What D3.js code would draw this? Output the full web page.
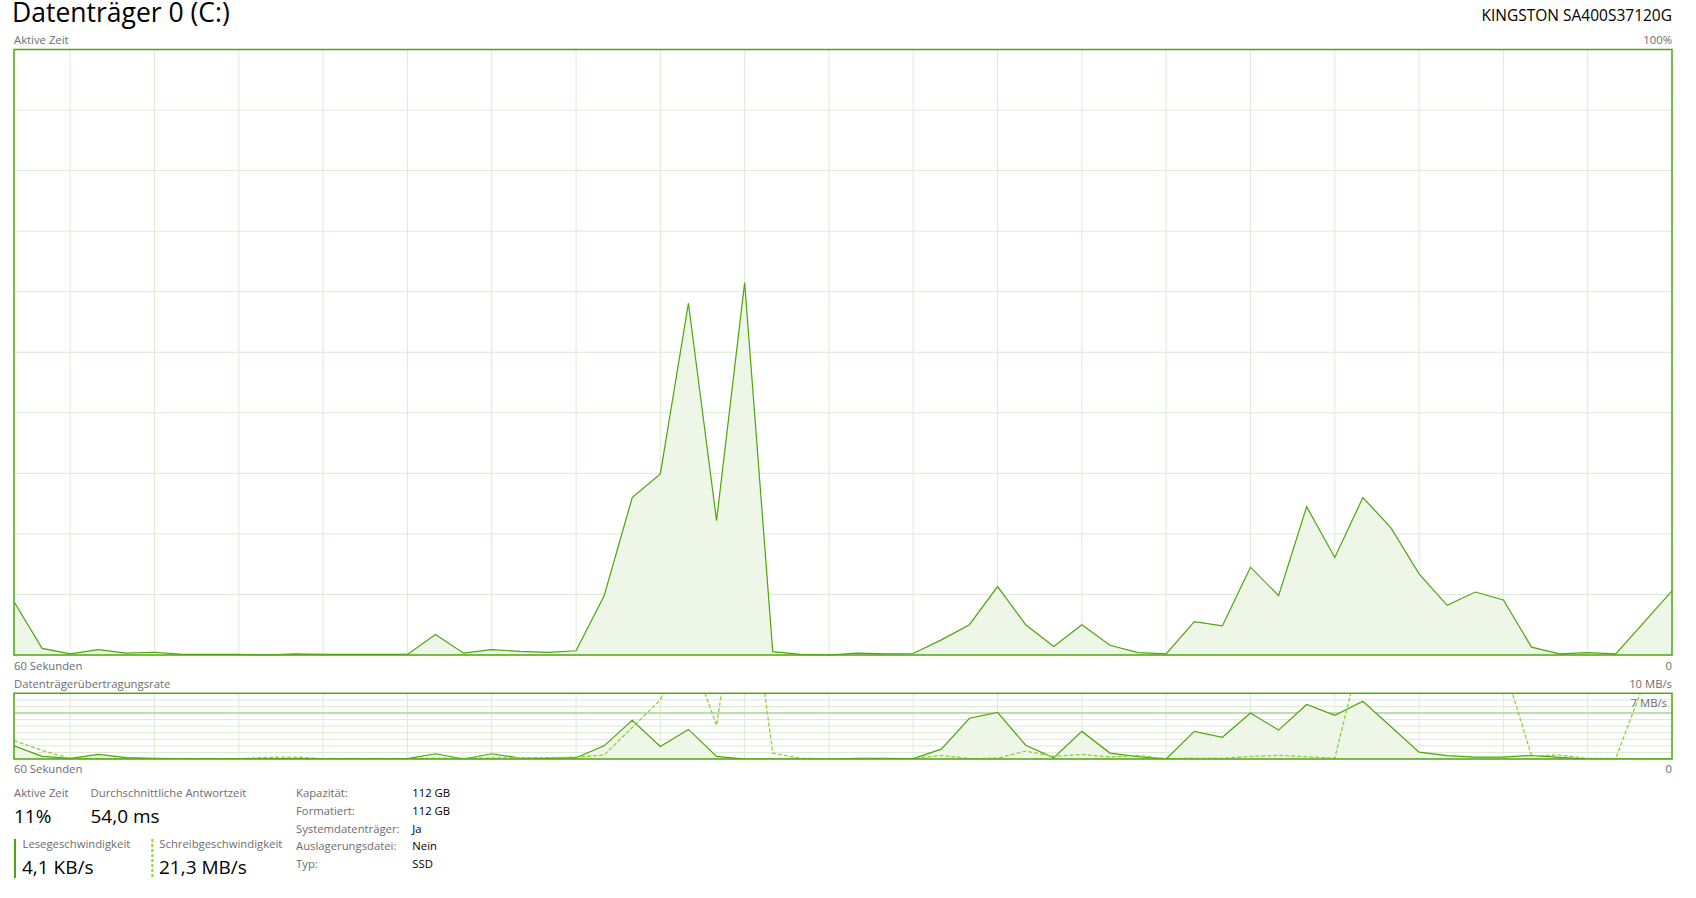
<!DOCTYPE html>
<html>
<head>
<meta charset="utf-8" />
<script src="https://cdn.jsdelivr.net/npm/d3@7/dist/d3.min.js"></script>
<style>
  body { margin: 0; background: #fff; }
  svg { display: block; font-family: "Open Sans", "Noto Sans", sans-serif; }
</style>
</head>
<body>
<svg width="1696" height="898"></svg>
<script>
// Aktive Zeit in %, 60 Sekunden (links alt, rechts neu)
var aktiveZeit = [8.8, 1.1, 0.2, 0.9, 0.3, 0.45, 0.1, 0.1, 0.1, 0, 0.2, 0.1, 0.1, 0.1, 0.1,
                  3.4, 0.3, 0.9, 0.6, 0.45, 0.7, 9.8, 26.0, 29.9, 58.1, 22.2, 61.5, 0.55, 0.1, 0,
                  0.3, 0.2, 0.25, 2.5, 5.0, 11.3, 5.0, 1.4, 5.0, 1.6, 0.4, 0.2, 5.5, 4.8, 14.5,
                  9.8, 24.5, 16.1, 26.0, 21.0, 13.4, 8.2, 10.4, 9.1, 1.3, 0.2, 0.4, 0.2, 5.4, 10.6];

// Übertragungsrate in MB/s
var lesen = [2.0, 0.4, 0.1, 0.7, 0.2, 0.1, 0.05, 0.05, 0.05, 0.05, 0.05, 0.05, 0.05, 0.05, 0.05,
             0.8, 0, 0.8, 0.15, 0.1, 0.2, 2.0, 5.9, 1.9, 4.5, 0.4, 0, 0, 0, 0,
             0.1, 0.1, 0.05, 1.5, 6.2, 7.1, 2.1, 0.2, 4.2, 0.9, 0.35, 0, 4.2, 3.3, 7.0,
             4.4, 8.3, 6.65, 8.8, 4.9, 1.05, 0.5, 0.3, 0.3, 0.55, 0.25, 0, 0, 0, 0.004];
var schreiben = [2.8, 1.3, 0.1, 0.05, 0.05, 0.05, 0.05, 0.05, 0.05, 0.25, 0.3, 0.05, 0.05, 0.05, 0.05,
                 0.1, 0.1, 0.15, 0.2, 0.2, 0.3, 0.6, 4.8, 9.0, 17, 5.1, 33, 0.9, 0.1, 0.05,
                 0.05, 0.05, 0.05, 0.55, 0.05, 0.1, 1.2, 0.4, 0.7, 0.3, 0.55, 0.05, 0.1, 0.1, 0.4,
                 0.55, 0.35, 0.1, 17.5, 20, 24, 19, 16, 14.5, 0.5, 0.6, 0.1, 0.1, 11.5, 21.3];

var maxRate = 10;      // 10 MB/s
var markeRate = 7;     // 7 MB/s Linie

var statsLinks = [
  {label: "Aktive Zeit", wert: "11%"},
  {label: "Durchschnittliche Antwortzeit", wert: "54,0 ms"}
];
var eigenschaften = [
  ["Kapazität:", "112 GB"],
  ["Formatiert:", "112 GB"],
  ["Systemdatenträger:", "Ja"],
  ["Auslagerungsdatei:", "Nein"],
  ["Typ:", "SSD"]
];

var gruen = "#4da60c";
var gruenHell = "#8fd13a";
var fuellung = "#edf6e7";
var gitter = "#dcebd2";
var grau = "#6d6d6d";
var klein = 11.3;

var svg = d3.select("svg");

var x = d3.scaleLinear().domain([0, aktiveZeit.length - 1]).range([14, 1672]);
var yZeit = d3.scaleLinear().domain([0, 100]).range([655, 49.5]);
var yRate = d3.scaleLinear().domain([0, maxRate]).range([759, 693.3]);

// Titel
svg.append("text").attr("x", 12).attr("y", 22).attr("font-size", 26.5).attr("fill", "#000")
   .text("Datenträger 0 (C:)");
svg.append("text").attr("x", 1672).attr("y", 21).attr("font-size", 15.5).attr("text-anchor", "end").attr("fill", "#000")
   .text("KINGSTON SA400S37120G");

function kleinText(tx, ty, txt, anchor) {
  svg.append("text").attr("x", tx).attr("y", ty).attr("font-size", klein).attr("fill", grau)
     .attr("text-anchor", anchor || "start").text(txt);
}

// senkrechte Gitterlinien alle 3 Punkte (Versatz 2)
var gitterX = d3.range(2, aktiveZeit.length - 1, 3);

function zeichneGitter(y0, y1, hLinien) {
  svg.append("g").selectAll("line").data(gitterX).enter().append("line")
     .attr("x1", function(d) { return x(d); }).attr("x2", function(d) { return x(d); })
     .attr("y1", y0).attr("y2", y1)
     .attr("stroke", gitter).attr("stroke-width", 1);
  svg.append("g").selectAll("line").data(hLinien).enter().append("line")
     .attr("x1", x.range()[0]).attr("x2", x.range()[1])
     .attr("y1", function(d) { return d; }).attr("y2", function(d) { return d; })
     .attr("stroke", gitter).attr("stroke-width", 1);
}

// ---- Aktive Zeit ----
kleinText(14, 44, "Aktive Zeit");
kleinText(1672, 44, "100%", "end");
zeichneGitter(yZeit(0), yZeit(100), d3.range(10, 100, 10).map(yZeit));

var flaecheZeit = d3.area().x(function(d, i) { return x(i); }).y0(yZeit(0)).y1(function(d) { return yZeit(d); });
var linieZeit = d3.line().x(function(d, i) { return x(i); }).y(function(d) { return yZeit(d); });

svg.append("path").datum(aktiveZeit).attr("d", flaecheZeit).attr("fill", fuellung);
svg.append("path").datum(aktiveZeit).attr("d", linieZeit).attr("fill", "none")
   .attr("stroke", gruen).attr("stroke-width", 1.2);
svg.append("rect").attr("x", 14).attr("y", 49.5).attr("width", 1658).attr("height", 605.5)
   .attr("fill", "none").attr("stroke", gruen).attr("stroke-width", 1.5);

kleinText(14, 669.5, "60 Sekunden");
kleinText(1672, 669.5, "0", "end");

// ---- Übertragungsrate ----
kleinText(14, 688, "Datenträgerübertragungsrate");
kleinText(1672, 688, "10 MB/s", "end");
zeichneGitter(yRate(0), yRate(maxRate), d3.range(1, maxRate).map(yRate));

svg.append("line").attr("x1", 14).attr("x2", 1672)
   .attr("y1", yRate(markeRate)).attr("y2", yRate(markeRate))
   .attr("stroke", "#a8d890").attr("stroke-width", 1.5);

svg.append("clipPath").attr("id", "clipRate").append("rect")
   .attr("x", 14).attr("y", yRate(maxRate)).attr("width", 1658).attr("height", yRate(0) - yRate(maxRate));

var rateG = svg.append("g").attr("clip-path", "url(#clipRate)");
var flaecheRate = d3.area().x(function(d, i) { return x(i); }).y0(yRate(0)).y1(function(d) { return yRate(d); });
var linieRate = d3.line().x(function(d, i) { return x(i); }).y(function(d) { return yRate(d); });

rateG.append("path").datum(lesen).attr("d", flaecheRate).attr("fill", fuellung);
rateG.append("path").datum(lesen).attr("d", linieRate).attr("fill", "none")
     .attr("stroke", gruen).attr("stroke-width", 1.2);
rateG.append("path").datum(schreiben).attr("d", linieRate).attr("fill", "none")
     .attr("stroke", gruenHell).attr("stroke-width", 1.3).attr("stroke-dasharray", "4,2");

svg.append("rect").attr("x", 14).attr("y", yRate(maxRate)).attr("width", 1658).attr("height", yRate(0) - yRate(maxRate))
   .attr("fill", "none").attr("stroke", gruen).attr("stroke-width", 1.5);

kleinText(1667, 707, markeRate + " MB/s", "end");
kleinText(14, 773, "60 Sekunden");
kleinText(1672, 773, "0", "end");

// ---- Statistiken ----
var statX = [14, 90.5];
statsLinks.forEach(function(s, i) {
  kleinText(statX[i], 797, s.label);
  svg.append("text").attr("x", statX[i]).attr("y", 822.5).attr("font-size", 19).attr("fill", "#000").text(s.wert);
});

// Lesen / Schreiben mit Legendenbalken
svg.append("line").attr("x1", 15).attr("x2", 15).attr("y1", 839).attr("y2", 878)
   .attr("stroke", gruen).attr("stroke-width", 2);
kleinText(22.5, 848, "Lesegeschwindigkeit");
svg.append("text").attr("x", 22).attr("y", 873.5).attr("font-size", 19).attr("fill", "#000").text("4,1 KB/s");

svg.append("line").attr("x1", 152.3).attr("x2", 152.3).attr("y1", 839).attr("y2", 878)
   .attr("stroke", gruenHell).attr("stroke-width", 2).attr("stroke-dasharray", "3,2");
kleinText(159.3, 848, "Schreibgeschwindigkeit");
svg.append("text").attr("x", 159).attr("y", 873.5).attr("font-size", 19).attr("fill", "#000").text("21,3 MB/s");

eigenschaften.forEach(function(e, i) {
  kleinText(296, 796.7 + i * 17.9, e[0]);
  svg.append("text").attr("x", 412.3).attr("y", 796.7 + i * 17.9).attr("font-size", klein).attr("fill", "#000").text(e[1]);
});
</script>
</body>
</html>
